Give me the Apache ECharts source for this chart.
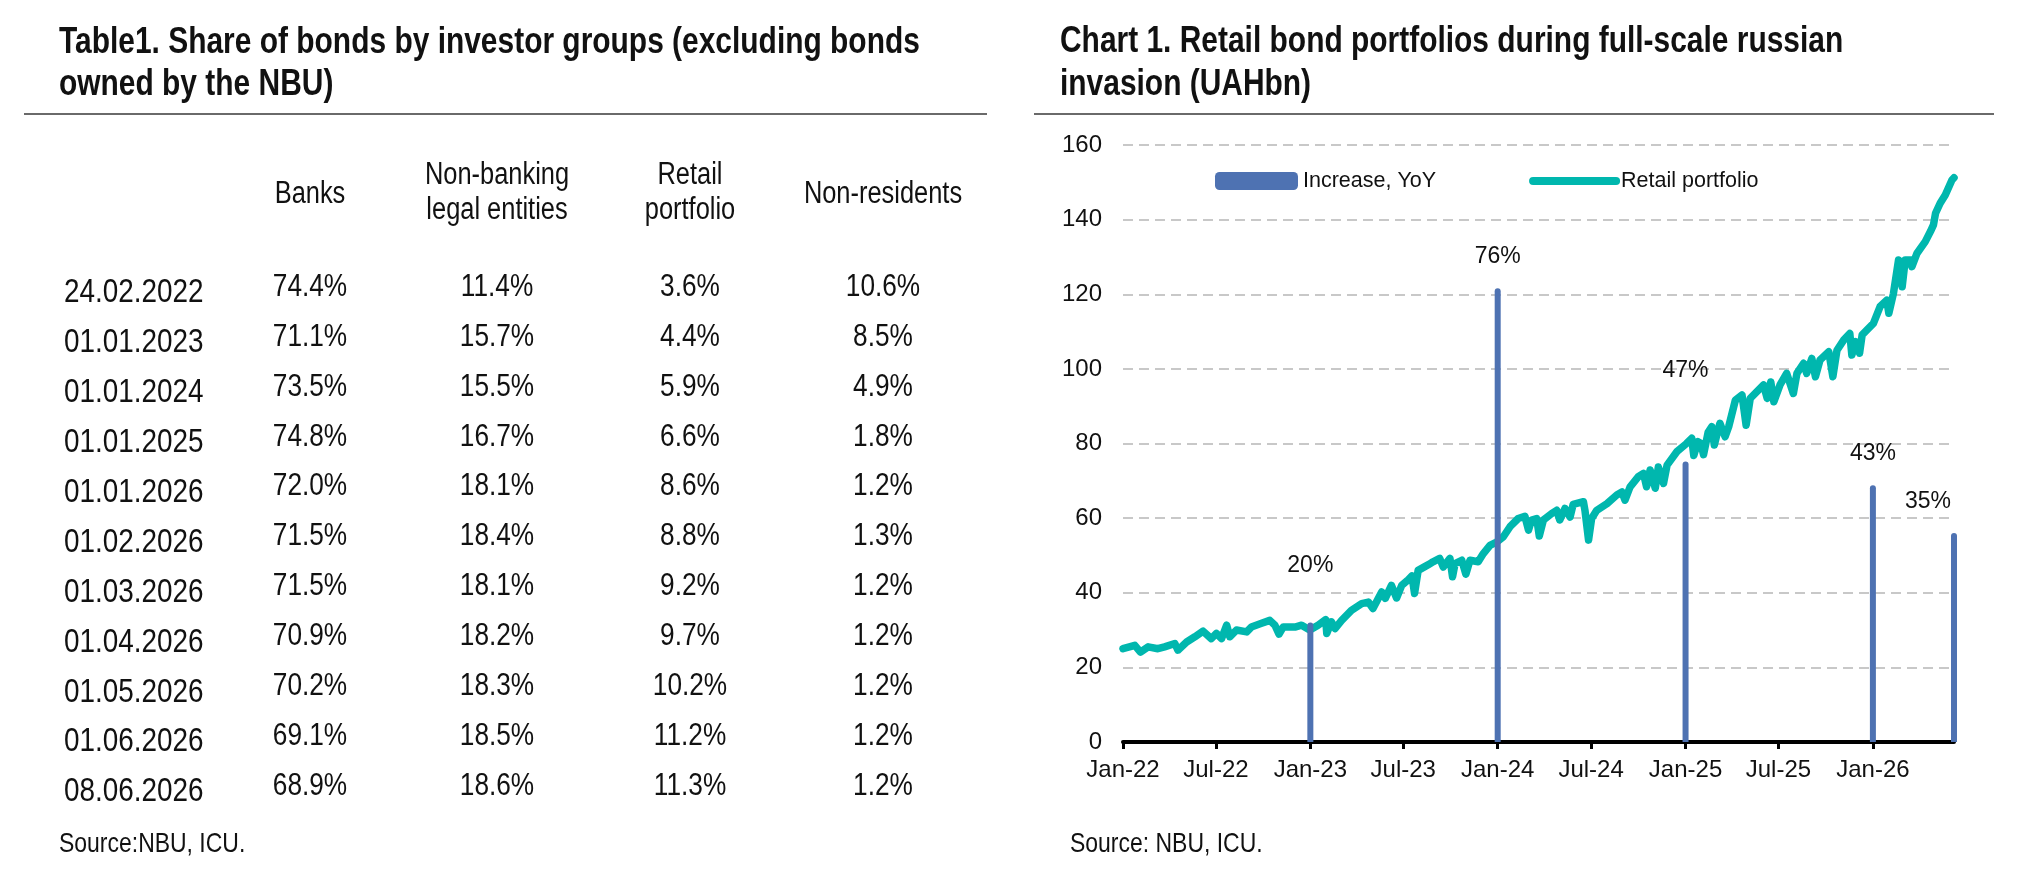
<!DOCTYPE html>
<html>
<head>
<meta charset="utf-8">
<script src="https://cdn.jsdelivr.net/npm/echarts@6/dist/echarts.min.js"></script>
<style>
html,body{margin:0;padding:0;background:#ffffff;}
#c{width:2023px;height:885px;}
</style>
</head>
<body>
<div id="c"></div>
<script>
// ---------------- DATA ----------------
const tableTitle = ['Table1. Share of bonds by investor groups (excluding bonds', 'owned by the NBU)'];
const chartTitle = ['Chart 1. Retail bond portfolios during full-scale russian', 'invasion (UAHbn)'];
const tableHeaders = [['Banks'], ['Non-banking', 'legal entities'], ['Retail', 'portfolio'], ['Non-residents']];
const tableDates = ['24.02.2022', '01.01.2023', '01.01.2024', '01.01.2025', '01.01.2026', '01.02.2026',
  '01.03.2026', '01.04.2026', '01.05.2026', '01.06.2026', '08.06.2026'];
const banks = [74.4, 71.1, 73.5, 74.8, 72.0, 71.5, 71.5, 70.9, 70.2, 69.1, 68.9];
const nonBanking = [11.4, 15.7, 15.5, 16.7, 18.1, 18.4, 18.1, 18.2, 18.3, 18.5, 18.6];
const retailShare = [3.6, 4.4, 5.9, 6.6, 8.6, 8.8, 9.2, 9.7, 10.2, 11.2, 11.3];
const nonResidents = [10.6, 8.5, 4.9, 1.8, 1.2, 1.3, 1.2, 1.2, 1.2, 1.2, 1.2];
const tableSource = 'Source:NBU, ICU.';
const chartSource = 'Source: NBU, ICU.';

const seriesNames = ['Increase, YoY', 'Retail portfolio'];
const yoyDates = ['2023-01-01', '2024-01-01', '2025-01-01', '2026-01-01', '2026-06-08'];
const yoyPct = [20, 76, 47, 43, 35];

const portfolioDates = [
  '2022-01-01','2022-01-24','2022-02-04','2022-02-19','2022-03-10','2022-03-23','2022-04-12','2022-04-18',
  '2022-05-05','2022-05-21','2022-06-06','2022-06-22','2022-07-02','2022-07-12','2022-07-22','2022-07-28',
  '2022-08-10','2022-08-30','2022-09-08','2022-09-28','2022-10-14','2022-10-24','2022-11-01','2022-11-09',
  '2022-12-02','2022-12-15','2022-12-31','2023-01-16','2023-01-31','2023-02-02','2023-02-11','2023-02-18',
  '2023-03-03','2023-03-22','2023-04-11','2023-04-24','2023-05-03','2023-05-20','2023-05-27','2023-06-08',
  '2023-06-18','2023-06-28','2023-07-11','2023-07-18','2023-07-23','2023-07-30','2023-08-12','2023-08-22',
  '2023-08-28','2023-09-10','2023-09-17','2023-09-30','2023-10-05','2023-10-10','2023-10-23','2023-10-31',
  '2023-11-08','2023-11-24','2023-12-04','2023-12-17','2023-12-30','2024-01-12','2024-01-25','2024-02-10',
  '2024-02-23','2024-03-01','2024-03-07','2024-03-17','2024-03-22','2024-03-30','2024-04-15','2024-04-25',
  '2024-05-01','2024-05-11','2024-05-21','2024-05-27','2024-06-16','2024-06-19','2024-06-26','2024-07-02',
  '2024-07-12','2024-08-01','2024-08-20','2024-08-30','2024-09-05','2024-09-15','2024-10-01','2024-10-11',
  '2024-10-17','2024-10-24','2024-11-03','2024-11-09','2024-11-19','2024-11-26','2024-12-15','2025-01-03',
  '2025-01-13','2025-01-17','2025-01-25','2025-01-31','2025-02-05','2025-02-14','2025-02-21','2025-02-26',
  '2025-03-06','2025-03-09','2025-03-19','2025-03-26','2025-04-08','2025-04-21','2025-04-29','2025-05-07',
  '2025-05-20','2025-06-02','2025-06-09','2025-06-16','2025-06-22','2025-07-04','2025-07-17','2025-07-30',
  '2025-08-06','2025-08-19','2025-08-25','2025-09-04','2025-09-11','2025-09-20','2025-10-07','2025-10-15',
  '2025-10-23','2025-11-05','2025-11-17','2025-11-21','2025-11-28','2025-12-06','2025-12-11','2026-01-02',
  '2026-01-15','2026-01-28','2026-02-01','2026-02-10','2026-02-20','2026-02-27','2026-03-05','2026-03-15',
  '2026-03-18','2026-03-28','2026-04-13','2026-04-23','2026-04-29','2026-05-03','2026-05-12','2026-05-22',
  '2026-06-04','2026-06-08'
];
const portfolioValues = [
  25.0,25.9,24.1,25.5,25.0,25.5,26.4,24.6,
  26.8,28.2,29.7,27.7,29.1,27.7,31.3,28.2,
  30.0,29.5,30.8,31.8,32.6,31.3,28.9,30.8,
  30.8,31.3,30.0,31.3,32.8,29.1,32.2,30.4,
  32.6,35.3,37.1,37.5,35.8,40.2,38.5,42.0,
  38.6,42.0,43.5,44.5,39.8,46.0,47.0,47.8,
  48.3,49.2,46.9,49.2,44.3,47.8,48.7,45.0,
  48.7,48.3,50.5,52.7,53.6,55.0,57.7,59.9,
  60.5,56.8,59.5,59.9,55.2,59.5,61.2,62.1,
  59.5,62.6,60.3,63.7,64.4,62.1,54.1,59.9,
  62.1,63.9,66.2,67.0,64.8,68.4,71.1,72.0,
  68.4,72.9,68.0,73.7,69.3,74.2,77.8,80.0,
  81.4,76.8,80.5,80.0,77.0,83.0,84.5,79.6,
  84.0,85.4,81.8,84.5,91.6,93.0,84.9,92.1,
  93.9,95.7,92.1,96.5,91.2,95.7,98.8,93.4,
  98.8,101.5,98.8,102.8,97.9,102.4,104.6,97.9,
  105.0,107.7,109.5,103.7,107.3,104.2,109.1,112.2,
  116.7,118.4,114.9,120.2,129.2,122.0,129.2,129.2,
  127.4,131.0,134.1,136.8,138.6,141.7,144.4,146.6,
  150.6,151.2
];

const xTickDates = ['2022-01-01','2022-07-01','2023-01-01','2023-07-01','2024-01-01','2024-07-01','2025-01-01','2025-07-01','2026-01-01'];
const xTickLabels = ['Jan-22','Jul-22','Jan-23','Jul-23','Jan-24','Jul-24','Jan-25','Jul-25','Jan-26'];
const xRange = ['2022-01-01', '2026-06-08'];
const yLeftRange = [0, 160, 20];
const yRightRange = [0, 100];

// ---------------- STYLE ----------------
const FONT = "'Liberation Sans',Arial,sans-serif";
const NARROW = 0.82;            // horizontal squeeze to imitate a narrow face
const TEXT = '#111111';
const BLUE = '#4E72B2';
const TEAL = '#00B7AE';
// label nudges for the YoY labels (pixels, styling only)
const labelNudge = [[0, -25], [0, 0], [0, -59], [0, 0], [-26, 0]];

// dates -> day number since the first axis date
const T0 = (function () { const p = xRange[0].split('-').map(Number); return Date.UTC(p[0], p[1] - 1, p[2]); })();
function day(s) { const p = s.split('-').map(Number); return Math.round((Date.UTC(p[0], p[1] - 1, p[2]) - T0) / 86400000); }
const tickDays = xTickDates.map(day);
const tickLabelMap = {};
tickDays.forEach((t, i) => { tickLabelMap[t] = xTickLabels[i]; });

// ---------------- TABLE (graphic text) ----------------
const graphics = [];
function txt(text, x, y, size, opts) {
  opts = opts || {};
  graphics.push({
    type: 'text', x: x, y: y, scaleX: NARROW, silent: true,
    style: {
      text: text, fill: TEXT,
      font: (opts.bold ? 'bold ' : '') + size + 'px ' + FONT,
      align: opts.align || 'left', verticalAlign: 'middle'
    }
  });
}
function hline(x1, x2, y) {
  graphics.push({ type: 'line', silent: true, shape: { x1: x1, y1: y, x2: x2, y2: y },
    style: { stroke: '#6a6a6a', lineWidth: 2 } });
}
txt(tableTitle[0], 59, 43, 36.5, { bold: true });
txt(tableTitle[1], 59, 85, 36.5, { bold: true });
hline(24, 987, 114);
txt(chartTitle[0], 1060, 42, 36.5, { bold: true });
txt(chartTitle[1], 1060, 85, 36.5, { bold: true });
hline(1034, 1994, 114);

const colX = [310, 497, 690, 883];
tableHeaders.forEach((h, i) => {
  if (h.length === 1) txt(h[0], colX[i], 194, 31, { align: 'center' });
  else { txt(h[0], colX[i], 175, 31, { align: 'center' }); txt(h[1], colX[i], 210, 31, { align: 'center' }); }
});
const cols = [banks, nonBanking, retailShare, nonResidents];
tableDates.forEach((d, r) => {
  const y = 287 + r * 49.9;
  txt(d, 64, y + 6, 34);
  cols.forEach((col, c) => txt(col[r].toFixed(1) + '%', colX[c], y, 32, { align: 'center' }));
});
txt(tableSource, 59, 844, 28);
txt(chartSource, 1070, 844, 28);

// ---------------- CHART ----------------
const chart = echarts.init(document.getElementById('c'), null, { renderer: 'canvas' });
const option = {
  backgroundColor: '#ffffff',
  animation: false,
  textStyle: { fontFamily: FONT },
  graphic: graphics,
  grid: { left: 1123, right: 69, top: 145, bottom: 143, containLabel: false },
  legend: {
    left: 1210, top: 165, itemWidth: 83, itemHeight: 18, itemGap: 93,
    textStyle: { fontSize: 21.5, color: TEXT, fontFamily: FONT },
    data: [
      { name: seriesNames[0], icon: 'roundRect' },
      { name: seriesNames[1], itemStyle: { opacity: 0 }, lineStyle: { width: 8, cap: 'round', color: TEAL } }
    ]
  },
  xAxis: {
    type: 'value', min: day(xRange[0]), max: day(xRange[1]),
    axisLine: { show: true, lineStyle: { color: '#000000', width: 4 } },
    axisTick: { show: true, customValues: tickDays, length: 7, lineStyle: { color: '#000000', width: 3 } },
    axisLabel: {
      customValues: tickDays, fontSize: 24, color: TEXT, fontFamily: FONT, margin: 16,
      formatter: v => tickLabelMap[Math.round(v)] || ''
    },
    splitLine: { show: false }
  },
  yAxis: [
    {
      type: 'value', min: yLeftRange[0], max: yLeftRange[1], interval: yLeftRange[2],
      axisLine: { show: false }, axisTick: { show: false },
      axisLabel: { fontSize: 24, color: TEXT, fontFamily: FONT, margin: 21 },
      splitLine: { show: true, lineStyle: { color: '#C8C8C8', width: 2, type: [10, 6] } }
    },
    {
      type: 'value', min: yRightRange[0], max: yRightRange[1], show: false,
      splitLine: { show: false }
    }
  ],
  series: [
    {
      name: seriesNames[1], type: 'line', yAxisIndex: 0, z: 2,
      showSymbol: false, symbol: 'none', smooth: false,
      lineStyle: { color: TEAL, width: 7.5, cap: 'round', join: 'round' },
      itemStyle: { color: TEAL },
      data: portfolioDates.map((d, i) => [day(d), portfolioValues[i]])
    },
    {
      name: seriesNames[0], type: 'bar', yAxisIndex: 1, z: 3, barWidth: 6,
      itemStyle: { color: BLUE, borderRadius: [3, 3, 0, 0] },
      label: {
        show: true, position: 'top', distance: 20, fontSize: 23, color: TEXT, fontFamily: FONT,
        formatter: p => p.value[1] + '%'
      },
      data: yoyDates.map((d, i) => ({ value: [day(d), yoyPct[i]], label: { offset: labelNudge[i] } }))
    }
  ]
};
chart.setOption(option);
</script>
</body>
</html>
